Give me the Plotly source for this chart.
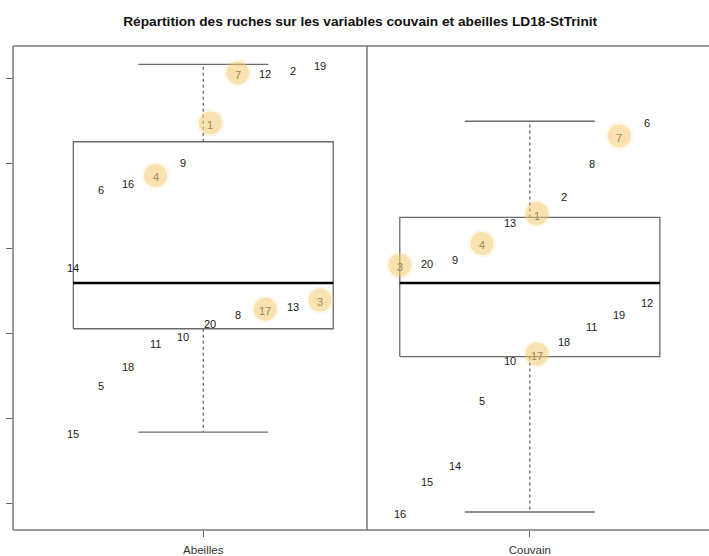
import numpy as np
import plotly.graph_objects as go

# Standardised scores of the 20 hives (index i -> hive i+1)
hives = list(range(1, 21))
abeilles = [1.48, 2.11, -0.605, 0.862, -1.592, 0.709, 2.07, -0.760, 1.038, -1.02,
            -1.093, 2.08, -0.666, -0.205, -2.16, 0.783, -0.713, -1.369, 2.17, -0.865]
couvain = [0.413, 0.627, -0.195, 0.061, -1.764, 1.50, 1.327, 1.018, -0.111, -1.30,
           -0.897, -0.615, 0.322, -2.538, -2.718, -3.10, -1.24, -1.073, -0.760, -0.155]
highlighted = [1, 3, 4, 7, 17]
variables = ["Abeilles", "Couvain"]
y_ticks = [-3, -2, -1, 0, 1, 2]
title = "Répartition des ruches sur les variables couvain et abeilles LD18-StTrinit"

FONT = "Liberation Sans, Arial, sans-serif"
W, H = 709, 556
ML, MR, MT, MB = 13, 0, 46, 24
split = 354 / (W - ML - MR)          # panel divider as a fraction of the plot width

BOX_COL = "#6a6a6a"
FRAME_COL = "#7a7a7a"


def tukey_stats(values):
    """R-style fivenum hinges and 1.5*IQR whisker ends."""
    s = np.sort(np.asarray(values, float))
    n = len(s)
    n4 = np.floor((n + 3) / 2) / 2
    d = np.array([1, n4, (n + 1) / 2, n + 1 - n4, n]) - 1
    fn = 0.5 * (s[np.floor(d).astype(int)] + s[np.ceil(d).astype(int)])
    q1, med, q3 = fn[1], fn[2], fn[3]
    iqr = q3 - q1
    lo = s[s >= q1 - 1.5 * iqr].min()
    hi = s[s <= q3 + 1.5 * iqr].max()
    return q1, med, q3, lo, hi


def label_offsets(values):
    """Spread labels across the box: position cycles with the value rank."""
    order = np.argsort(values, kind="stable")
    rank = np.empty(len(values), int)
    rank[order] = np.arange(len(values))
    return -0.5 + 0.1055 * (rank % 10)


fig = go.Figure()
annotations = []

for i, (name, vals) in enumerate(zip(variables, [abeilles, couvain])):
    xa = "x" if i == 0 else "x2"
    q1, med, q3, lo, hi = tukey_stats(vals)
    hw, cw = 0.5, 0.25

    # box outline
    fig.add_trace(go.Scatter(x=[-hw, hw, hw, -hw, -hw], y=[q1, q1, q3, q3, q1],
                             mode="lines", line=dict(color=BOX_COL, width=1.3),
                             xaxis=xa, yaxis="y", hoverinfo="skip"))
    # dashed whiskers
    for a, b in [(q3, hi), (q1, lo)]:
        fig.add_trace(go.Scatter(x=[0, 0], y=[a, b], mode="lines",
                                 line=dict(color=BOX_COL, width=1.3, dash="dot"),
                                 xaxis=xa, yaxis="y", hoverinfo="skip"))
    # whisker caps
    for v in (hi, lo):
        fig.add_trace(go.Scatter(x=[-cw, cw], y=[v, v], mode="lines",
                                 line=dict(color=BOX_COL, width=1.3),
                                 xaxis=xa, yaxis="y", hoverinfo="skip"))
    # median
    fig.add_trace(go.Scatter(x=[-hw, hw], y=[med, med], mode="lines",
                             line=dict(color="black", width=2.6),
                             xaxis=xa, yaxis="y", hoverinfo="skip"))

    xs = label_offsets(vals)

    # highlighted hives: soft translucent discs behind the labels
    hx = [xs[h - 1] for h in highlighted]
    hy = [vals[h - 1] for h in highlighted]
    fig.add_trace(go.Scatter(x=hx, y=hy, mode="markers",
                             marker=dict(size=28, color="rgba(242,205,110,0.14)", line=dict(width=0)),
                             xaxis=xa, yaxis="y", hoverinfo="skip"))
    fig.add_trace(go.Scatter(x=hx, y=hy, mode="markers",
                             marker=dict(size=23, color="rgba(242,205,110,0.48)", line=dict(width=0)),
                             xaxis=xa, yaxis="y", hoverinfo="skip"))

    # hive labels
    for h, xv, yv in zip(hives, xs, vals):
        col = "#a08556" if h in highlighted else "#1a1a1a"
        annotations.append(dict(x=xv, y=yv, xref=xa, yref="y", text=str(h),
                                showarrow=False, xanchor="center", yanchor="middle",
                                yshift=-2,
                                font=dict(family=FONT, size=11, color=col)))

axis_x = dict(ticks="outside", ticklen=6, tickwidth=1, tickcolor="#666",
              showgrid=False, zeroline=False, showline=False, anchor="y",
              ticklabelstandoff=3,
              tickfont=dict(family=FONT, size=11.5, color="#333"), fixedrange=True)

fig.update_layout(
    width=W, height=H,
    margin=dict(l=ML, r=MR, t=MT, b=MB),
    paper_bgcolor="white", plot_bgcolor="white",
    showlegend=False,
    annotations=annotations,
    title=dict(text="<b>" + title + "</b>", x=0.508, xanchor="center",
               y=1 - 21 / H, yanchor="middle", xref="container", yref="container",
               font=dict(family=FONT, size=13.7, color="#111")),
    xaxis=dict(domain=[0, split], range=[-0.732, 0.630], tickvals=[0],
               ticktext=[variables[0]], **axis_x),
    xaxis2=dict(domain=[split, 1], range=[-0.626, 0.689], tickvals=[0],
                ticktext=[variables[1]], **axis_x),
    yaxis=dict(range=[-3.312, 2.386], tickvals=y_ticks, ticks="outside", ticklen=6,
               tickwidth=1, tickcolor="#666", showticklabels=False, showgrid=False,
               zeroline=False, showline=False, fixedrange=True),
    shapes=[
        dict(type="line", xref="paper", yref="paper", x0=0, x1=1, y0=1, y1=1,
             line=dict(color=FRAME_COL, width=1.5)),
        dict(type="line", xref="paper", yref="paper", x0=0, x1=1, y0=0, y1=0,
             line=dict(color=FRAME_COL, width=1.5)),
        dict(type="line", xref="paper", yref="paper", x0=0, x1=0, y0=0, y1=1,
             line=dict(color=FRAME_COL, width=1.5)),
        dict(type="line", xref="paper", yref="paper", x0=split, x1=split, y0=0, y1=1,
             line=dict(color=FRAME_COL, width=1.5)),
    ],
)

fig.write_html("out.html")
